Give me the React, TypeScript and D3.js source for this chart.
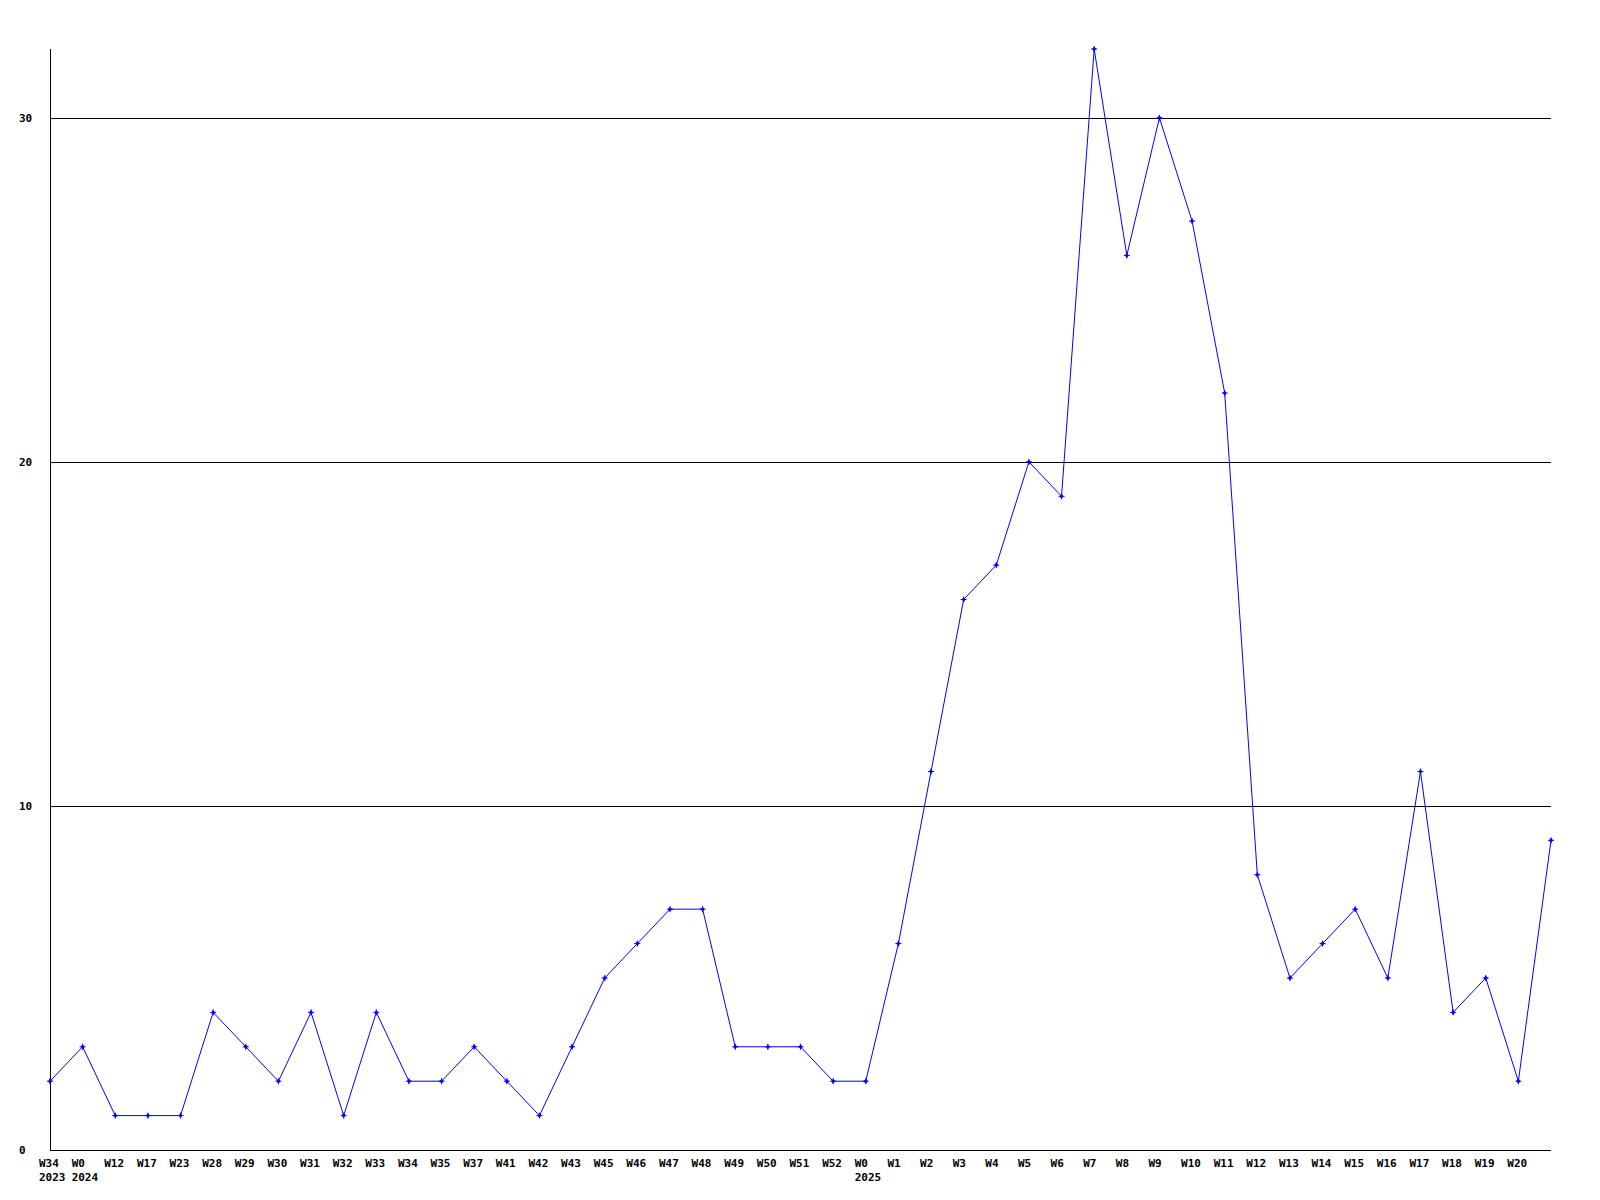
import React from "react";
import * as d3 from "d3";

const weekLabels: string[] = [
  "W34", "W0", "W12", "W17", "W23", "W28", "W29", "W30", "W31", "W32", "W33", "W34",
  "W35", "W37", "W41", "W42", "W43", "W45", "W46", "W47", "W48", "W49", "W50", "W51",
  "W52", "W0", "W1", "W2", "W3", "W4", "W5", "W6", "W7", "W8", "W9", "W10", "W11",
  "W12", "W13", "W14", "W15", "W16", "W17", "W18", "W19", "W20", "",
];

const yearLabels: { index: number; year: string }[] = [
  { index: 0, year: "2023" },
  { index: 1, year: "2024" },
  { index: 25, year: "2025" },
];

const values: number[] = [
  2, 3, 1, 1, 1, 4, 3, 2, 4, 1, 4, 2, 2, 3, 2, 1, 3, 5, 6, 7, 7, 3, 3, 3, 2, 2, 6, 11,
  16, 17, 20, 19, 32, 26, 30, 27, 22, 8, 5, 6, 7, 5, 11, 4, 5, 2, 9,
];

const yTicks: number[] = [0, 10, 20, 30];

export default function App() {
  const W = 1600;
  const H = 1200;
  const left = 50;
  const right = 1551;
  const top = 49;
  const bottom = 1150;

  const x = d3
    .scalePoint<number>()
    .domain(values.map((_, i) => i))
    .range([left, right]);
  const y = d3.scaleLinear().domain([0, 32]).range([bottom, top]);

  const line = d3
    .line<number>()
    .x((_, i) => x(i) as number)
    .y((d) => y(d));

  const font = "'DejaVu Sans Mono', 'Liberation Mono', monospace";

  return (
    <div style={{ position: "absolute", left: 0, top: 0 }}>
      <svg width={W} height={H} style={{ display: "block", background: "#fff" }}>
        <rect x={0} y={0} width={W} height={H} fill="#fff" />
        {yTicks
          .filter((t) => t > 0)
          .map((t) => (
            <line
              key={t}
              x1={left}
              x2={right}
              y1={Math.round(y(t)) + 0.5}
              y2={Math.round(y(t)) + 0.5}
              stroke="#000"
              strokeWidth={1}
              shapeRendering="crispEdges"
            />
          ))}
        <line x1={left + 0.5} x2={left + 0.5} y1={top} y2={bottom + 1} stroke="#000" shapeRendering="crispEdges" />
        <line x1={left} x2={right} y1={bottom + 0.5} y2={bottom + 0.5} stroke="#000" shapeRendering="crispEdges" />
        {yTicks.map((t) => (
          <text
            key={t}
            x={19}
            y={y(t) + 4}
            fontFamily={font}
            fontWeight="bold"
            fontSize={11}
            fill="#000"
          >
            {t}
          </text>
        ))}
        {weekLabels.map((l, i) =>
          l ? (
            <text
              key={i}
              x={(x(i) as number) - 11}
              y={1167}
              fontFamily={font}
              fontWeight="bold"
              fontSize={11}
              fill="#000"
            >
              {l}
            </text>
          ) : null
        )}
        {yearLabels.map((yl) => (
          <text
            key={yl.year}
            x={(x(yl.index) as number) - 11}
            y={1181}
            fontFamily={font}
            fontWeight="bold"
            fontSize={11}
            fill="#000"
          >
            {yl.year}
          </text>
        ))}
        <path d={line(values) || ""} fill="none" stroke="#0000ff" strokeWidth={1} />
        {values.map((v, i) => {
          const cx = x(i) as number;
          const cy = y(v);
          return (
            <g key={i}>
              <path
                d={`M${cx},${cy - 2.5}L${cx + 2},${cy}L${cx},${cy + 2.5}L${cx - 2},${cy}Z`}
                fill="#0000ff"
              />
              <line x1={cx - 3} x2={cx + 3} y1={cy} y2={cy} stroke="#0000ff" strokeWidth={1} />
              <line x1={cx} x2={cx} y1={cy - 3} y2={cy + 3} stroke="#0000ff" strokeWidth={1} />
            </g>
          );
        })}
      </svg>
    </div>
  );
}
